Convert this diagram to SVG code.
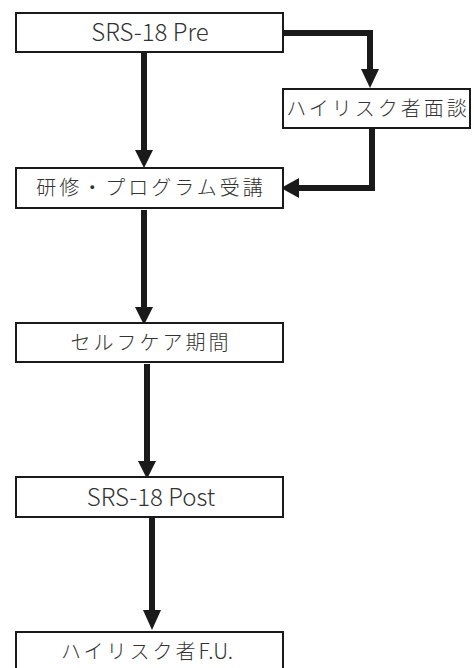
<svg xmlns="http://www.w3.org/2000/svg" width="474" height="668" viewBox="0 0 474 668">
<style>
.box{fill:#fff;stroke:#1a1a1a;stroke-width:2}
.lbl{font-family:"Noto Sans CJK JP","Noto Sans",sans-serif;font-size:20px;font-weight:300;fill:#333;text-anchor:middle;letter-spacing:3px}
.lat{font-size:24px;letter-spacing:0}
.ln{fill:none;stroke:#1a1a1a;stroke-width:6}
.hd{fill:#1a1a1a}
</style>
<rect width="474" height="668" fill="#fff"/>
<g id="connectors">
<path class="ln" d="M144,52 V152"/>
<polygon class="hd" points="135,150 153,150 144,168"/>
<path class="ln" d="M283,33 H370 V71"/>
<polygon class="hd" points="361,69 379,69 370,88"/>
<path class="ln" d="M372,128 V188 H297"/>
<polygon class="hd" points="299,178 299,198 281,188"/>
<path class="ln" d="M144,210 V309"/>
<polygon class="hd" points="135,307 153,307 144,325"/>
<path class="ln" d="M147,364 V463"/>
<polygon class="hd" points="138,461 156,461 147,479"/>
<path class="ln" d="M152,518 V612"/>
<polygon class="hd" points="143,610 161,610 152,630"/>
</g>
<g id="n1"><rect class="box" x="16" y="13" width="267" height="39"/><text class="lbl lat" x="150" y="41">SRS-18 Pre</text></g>
<g id="n2"><rect class="box" x="283" y="89" width="187" height="39"/><text class="lbl" x="378" y="116">ハイリスク者面談</text></g>
<g id="n3"><rect class="box" x="16" y="168" width="267" height="40"/><text class="lbl" x="151" y="195">研修・プログラム受講</text></g>
<g id="n4"><rect class="box" x="16" y="323" width="267" height="39"/><text class="lbl" x="151" y="350">セルフケア期間</text></g>
<g id="n5"><rect class="box" x="16" y="477" width="267" height="40"/><text class="lbl lat" x="151" y="506">SRS-18 Post</text></g>
<g id="n6"><rect class="box" x="16" y="632" width="267" height="40"/><text class="lbl" x="61" y="659" style="text-anchor:start">ハイリスク者<tspan style="letter-spacing:0;font-size:21px">F.U.</tspan></text></g>
</svg>
